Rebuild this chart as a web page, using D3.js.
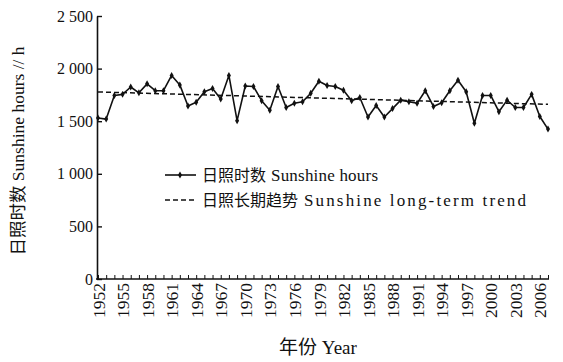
<!DOCTYPE html>
<html>
<head>
<meta charset="utf-8">
<script src="https://cdn.jsdelivr.net/npm/d3@7"></script>
<style>
  html, body { margin: 0; padding: 0; background: #fff; }
  svg { display: block; }
  text { font-family: "Liberation Serif", "Times New Roman", "Noto Sans CJK SC", serif; fill: #111; }
</style>
</head>
<body>
<svg id="chart" width="563" height="362"></svg>
<script>
// Annual sunshine hours, 1952-2007
const years = [
  1952, 1953, 1954, 1955, 1956, 1957, 1958, 1959, 1960, 1961,
  1962, 1963, 1964, 1965, 1966, 1967, 1968, 1969, 1970, 1971,
  1972, 1973, 1974, 1975, 1976, 1977, 1978, 1979, 1980, 1981,
  1982, 1983, 1984, 1985, 1986, 1987, 1988, 1989, 1990, 1991,
  1992, 1993, 1994, 1995, 1996, 1997, 1998, 1999, 2000, 2001,
  2002, 2003, 2004, 2005, 2006, 2007
];
const sunshineHours = [
  1530, 1520, 1745, 1755, 1825, 1770, 1855, 1790, 1790, 1935,
  1845, 1645, 1680, 1780, 1810, 1710, 1935, 1505, 1835, 1830,
  1695, 1605, 1830, 1630, 1670, 1685, 1765, 1880, 1840, 1830,
  1795, 1695, 1725, 1540, 1650, 1540, 1620, 1700, 1685, 1670,
  1790, 1640, 1675, 1790, 1890, 1780, 1480, 1745, 1745, 1590,
  1700, 1630, 1630, 1755, 1545, 1425
];
// Long-term linear trend, end points
const trendYears = [1952, 2007];
const trendHours = [1778, 1660];

// Axis ticks
const yTicks = [0, 500, 1000, 1500, 2000, 2500];
const xLabelYears = [1952, 1955, 1958, 1961, 1964, 1967, 1970, 1973, 1976,
                     1979, 1982, 1985, 1988, 1991, 1994, 1997, 2000, 2003, 2006];

// Legend and axis texts (Chinese part, English part)
const seriesLabel = ["日照时数", "Sunshine hours"];
const trendLabel = ["日照长期趋势", "Sunshine long-term trend"];
const yTitle = "日照时数 Sunshine hours // h";
const xTitle = "年份 Year";

const svg = d3.select("#chart");
const plot = { left: 97, right: 548, top: 16, bottom: 279 };

const x = d3.scaleLinear().domain([1952, 2007]).range([plot.left + 1, plot.right]);
const y = d3.scaleLinear().domain([0, 2500]).range([plot.bottom, plot.top]);

const spaced = d3.formatLocale({ decimal: ".", thousands: " ", grouping: [3], currency: ["", ""] }).format(",");

// Y axis, ticks pointing inward
const yAxis = svg.append("g")
  .attr("transform", `translate(${plot.left},0)`)
  .call(d3.axisLeft(y).tickValues(yTicks).tickSize(-5).tickSizeOuter(0).tickPadding(4).tickFormat(spaced));
yAxis.select(".domain").attr("stroke", "#111").attr("stroke-width", 1.6);
yAxis.selectAll(".tick line").attr("stroke", "#111").attr("stroke-width", 1.4);
yAxis.selectAll(".tick text").attr("font-size", 16).attr("font-family", "Liberation Serif").attr("fill", "#111");

// X axis, one tick per year pointing inward
const xAxis = svg.append("g")
  .attr("transform", `translate(0,${plot.bottom})`)
  .call(d3.axisBottom(x).tickValues(years).tickSize(-4).tickSizeOuter(0)
    .tickFormat(d => xLabelYears.includes(d) ? String(d) : ""));
xAxis.select(".domain").attr("stroke", "#111").attr("stroke-width", 1.6)
  .attr("d", `M${plot.left - 1},0H${plot.right + 1}`);
xAxis.selectAll(".tick line").attr("stroke", "#111").attr("stroke-width", 1);
xAxis.selectAll(".tick text")
  .attr("font-size", 17.5).attr("font-family", "Liberation Serif").attr("fill", "#111")
  .attr("text-anchor", "end")
  .attr("transform", "rotate(-90)")
  .attr("x", -4).attr("y", 0).attr("dy", "0.35em");

// Trend line
svg.append("path")
  .datum(trendYears.map((yr, i) => [yr, trendHours[i]]))
  .attr("fill", "none").attr("stroke", "#111").attr("stroke-width", 1.5)
  .attr("stroke-dasharray", "5,3")
  .attr("d", d3.line().x(d => x(d[0])).y(d => y(d[1])));

// Sunshine hours series
const series = years.map((yr, i) => [yr, sunshineHours[i]]);
svg.append("path")
  .datum(series)
  .attr("fill", "none").attr("stroke", "#111").attr("stroke-width", 1.6)
  .attr("stroke-linejoin", "round")
  .attr("d", d3.line().x(d => x(d[0])).y(d => y(d[1])));

const marker = d3.symbol().type(d3.symbolDiamond).size(14);
svg.append("g").selectAll("path")
  .data(series).join("path")
  .attr("transform", d => `translate(${x(d[0])},${y(d[1])})`)
  .attr("d", marker).attr("fill", "#111");

// Legend
const legend = svg.append("g");
function legendText(row, yPos, cjkWidth, latinStart, latinWidth) {
  legend.append("text").attr("x", 202).attr("y", yPos).attr("dy", "0.35em")
    .attr("font-family", "Noto Sans CJK SC").attr("font-size", 16)
    .attr("textLength", cjkWidth).attr("lengthAdjust", "spacing").text(row[0]);
  legend.append("text").attr("x", latinStart).attr("y", yPos).attr("dy", "0.35em")
    .attr("font-size", 17).attr("textLength", latinWidth).attr("lengthAdjust", "spacing")
    .text(row[1]);
}
legend.append("line").attr("x1", 165).attr("x2", 196).attr("y1", 175).attr("y2", 175)
  .attr("stroke", "#111").attr("stroke-width", 1.6);
legend.append("path").attr("transform", "translate(180,175)").attr("d", marker).attr("fill", "#111");
legendText(seriesLabel, 175, 64, 271, 107);
legend.append("line").attr("x1", 165).attr("x2", 196).attr("y1", 200).attr("y2", 200)
  .attr("stroke", "#111").attr("stroke-width", 1.5).attr("stroke-dasharray", "5,3");
legendText(trendLabel, 200, 96, 304, 222);

// Axis titles
svg.append("text")
  .attr("transform", `translate(18,${151}) rotate(-90)`)
  .attr("text-anchor", "middle").attr("dy", "0.35em")
  .attr("font-size", 17.5).text(yTitle);
svg.append("text")
  .attr("x", 318).attr("y", 347).attr("dy", "0.35em")
  .attr("text-anchor", "middle").attr("font-size", 19).text(xTitle);
</script>
</body>
</html>
